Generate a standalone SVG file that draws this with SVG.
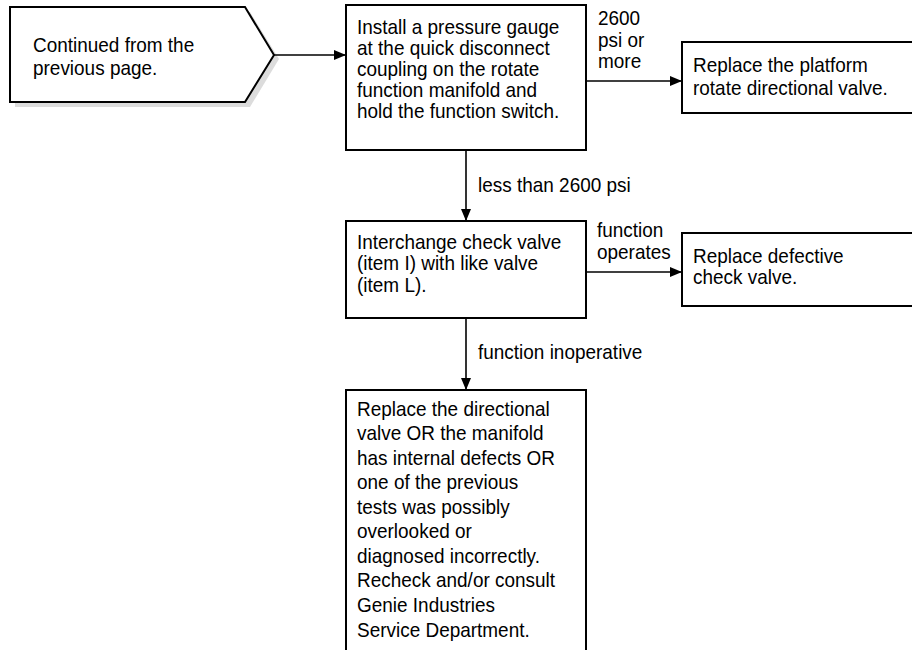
<svg xmlns="http://www.w3.org/2000/svg" width="912" height="650" viewBox="0 0 912 650">
<defs>
<style>
.box{fill:#fff;stroke:#000;stroke-width:2}
.t{font-family:"Liberation Sans",Arial,Helvetica,sans-serif;font-size:20.5px;fill:#000}
.c{stroke:#000;stroke-width:1.6;fill:none}
.shadow{fill:#dcdcdc}
</style>
<marker id="ah" markerWidth="12" markerHeight="10" refX="11" refY="5" orient="auto" markerUnits="userSpaceOnUse">
<path d="M0,0 L12,5 L0,10 Z" fill="#000"/>
</marker>
</defs>
<rect width="912" height="650" fill="#fff"/>
<g id="start">
<polygon class="shadow" points="15,12 250,12 279,59 250,107 15,107"/>
<polygon class="box" points="10,7 245,7 274,55 245,102 10,102"/>
<text class="t" transform="translate(33,0) scale(0.925,1)"><tspan x="0" y="52">Continued from the</tspan><tspan x="0" y="75">previous page.</tspan></text>
</g>
<g id="install">
<rect class="box" x="346" y="5" width="240" height="145"/>
<text class="t" transform="translate(357,0) scale(0.925,1)"><tspan x="0" y="34">Install a pressure gauge</tspan><tspan x="0" y="55">at the quick disconnect</tspan><tspan x="0" y="76">coupling on the rotate</tspan><tspan x="0" y="97">function manifold and</tspan><tspan x="0" y="118">hold the function switch.</tspan></text>
</g>
<g id="replace-platform">
<rect class="box" x="682" y="42" width="240" height="71"/>
<text class="t" transform="translate(693,0) scale(0.925,1)"><tspan x="0" y="72">Replace the platform</tspan><tspan x="0" y="95">rotate directional valve.</tspan></text>
</g>
<g id="interchange">
<rect class="box" x="346" y="221" width="240" height="97"/>
<text class="t" transform="translate(357,0) scale(0.925,1)"><tspan x="0" y="249">Interchange check valve</tspan><tspan x="0" y="270">(item I) with like valve</tspan><tspan x="0" y="292">(item L).</tspan></text>
</g>
<g id="replace-check">
<rect class="box" x="682" y="233" width="240" height="73"/>
<text class="t" transform="translate(693,0) scale(0.925,1)"><tspan x="0" y="263">Replace defective</tspan><tspan x="0" y="284">check valve.</tspan></text>
</g>
<g id="final">
<path class="box" d="M346,655 L346,390 L586,390 L586,655"/>
<text class="t" transform="translate(357,0) scale(0.925,1)"><tspan x="0" y="416">Replace the directional</tspan><tspan x="0" y="440">valve OR the manifold</tspan><tspan x="0" y="465">has internal defects OR</tspan><tspan x="0" y="489">one of the previous</tspan><tspan x="0" y="514">tests was possibly</tspan><tspan x="0" y="538">overlooked or</tspan><tspan x="0" y="563">diagnosed incorrectly.</tspan><tspan x="0" y="587">Recheck and/or consult</tspan><tspan x="0" y="612">Genie Industries</tspan><tspan x="0" y="637">Service Department.</tspan></text>
</g>
<g id="connectors">
<line class="c" x1="274" y1="55" x2="345" y2="55" marker-end="url(#ah)"/>
<line class="c" x1="586" y1="81" x2="681" y2="81" marker-end="url(#ah)"/>
<line class="c" x1="466" y1="150" x2="466" y2="220" marker-end="url(#ah)"/>
<line class="c" x1="586" y1="272" x2="681" y2="272" marker-end="url(#ah)"/>
<line class="c" x1="466" y1="318" x2="466" y2="389" marker-end="url(#ah)"/>
<text class="t" transform="translate(598,0) scale(0.925,1)"><tspan x="0" y="25">2600</tspan><tspan x="0" y="47">psi or</tspan><tspan x="0" y="68">more</tspan></text>
<text class="t" transform="translate(478,0) scale(0.925,1)" x="0" y="192">less than 2600 psi</text>
<text class="t" transform="translate(597,0) scale(0.925,1)"><tspan x="0" y="237">function</tspan><tspan x="0" y="259">operates</tspan></text>
<text class="t" transform="translate(478,0) scale(0.925,1)" x="0" y="359">function inoperative</text>
</g>
</svg>
